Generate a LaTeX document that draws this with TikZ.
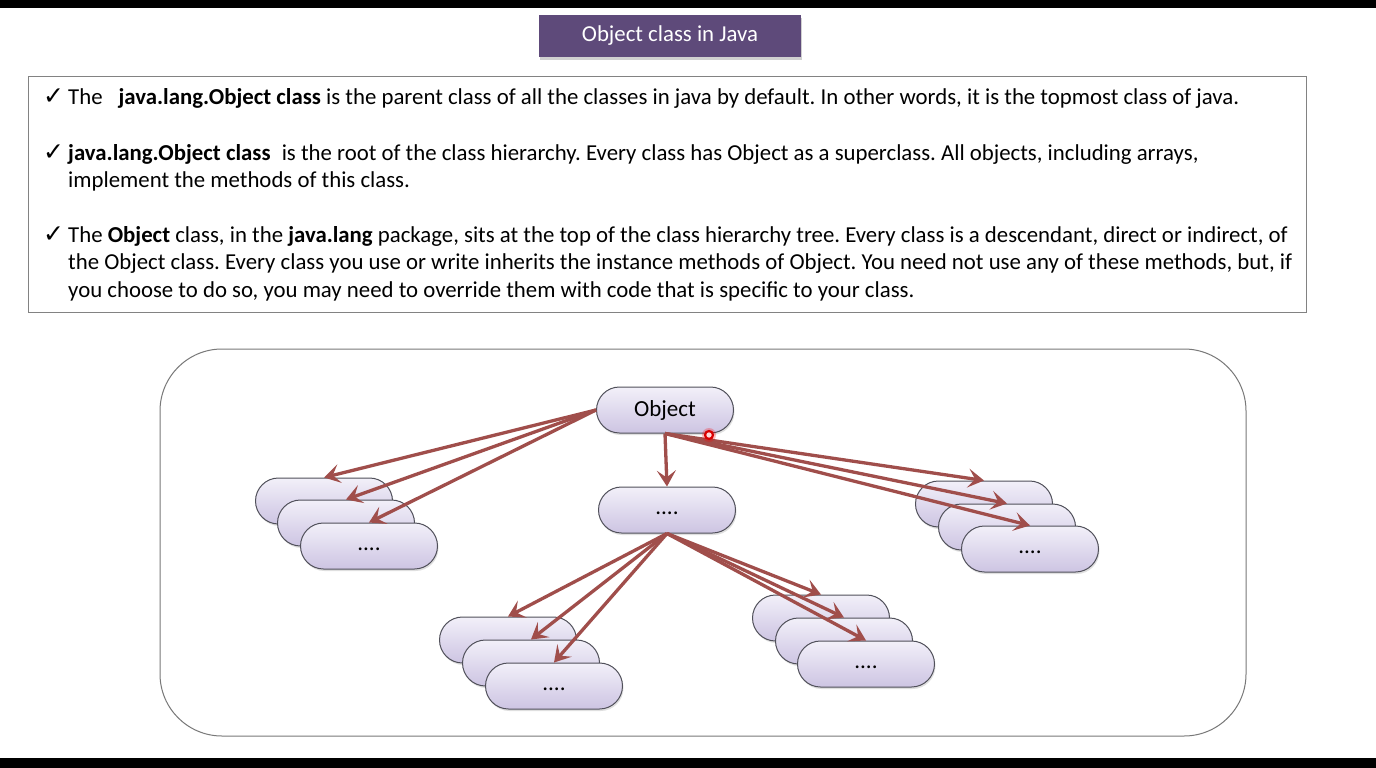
\documentclass[tikz,border=0pt]{standalone}
\usepackage{fontspec}
\setmainfont{Carlito}
\newfontfamily\symf{DejaVu Sans}
\usetikzlibrary{shapes.misc,shadows,arrows.meta}
\definecolor{arrowc}{RGB}{160,78,75}
\definecolor{titlec}{RGB}{94,74,122}
\definecolor{pilltop}{RGB}{242,240,249}
\definecolor{pillbot}{RGB}{205,196,226}
\tikzset{
  pill/.style={rounded rectangle, draw={rgb,255:red,80;green,80;blue,90}, line width=1pt,
    top color=pilltop, bottom color=pillbot, minimum width=137pt, minimum height=46pt,
    inner sep=0pt, font=\fontsize{23}{27}\selectfont,
    drop shadow={opacity=0.25, shadow xshift=1pt, shadow yshift=-2pt}},
  dots/.style={pill, text height=8pt, text depth=0pt},
  conn/.style={draw=arrowc, line width=3.3pt, -{Stealth[length=16pt,width=19pt,inset=7pt]}},
  txt/.style={anchor=base west, inner sep=0pt, font=\fontsize{22.8}{27}\selectfont\frenchspacing},
  tick/.style={anchor=base west, inner sep=0pt, font=\symf\fontsize{25}{27}\selectfont}
}
\begin{document}
\begin{tikzpicture}[x=1pt,y=-1pt]
\useasboundingbox (0,0) rectangle (1376,768);
\fill[white] (0,0) rectangle (1376,768);
\fill[black] (0,0) rectangle (1376,8);
\fill[black] (0,758) rectangle (1376,768);

% title
\node[rectangle, fill=titlec, minimum width=262pt, minimum height=42pt,
  inner sep=0pt, text=white, font=\fontsize{22.8}{27}\selectfont,
  drop shadow={opacity=0.3, fill=black!60, shadow xshift=1pt, shadow yshift=-3pt}] (title) at (670,36) {Object class in Java};

% text box
\draw[draw={rgb,255:red,130;green,130;blue,130}, line width=1pt] (28,77) rectangle (1306,312);
\node[tick] (c1) at (43,104) {✓};
\node[txt] (t1) at (68,104) {The\hspace{16pt}\textbf{java.lang.Object class} is the parent class of all the classes in java by default. In other words, it is the topmost class of java.};
\node[tick] (c2) at (43,160) {✓};
\node[txt] (t2) at (68,160) {\textbf{java.lang.Object class}\hspace{6pt} is the root of the class hierarchy. Every class has Object as a superclass. All objects, including arrays,};
\node[txt] (t3) at (68,187) {implement the methods of this class.};
\node[tick] (c3) at (43,242) {✓};
\node[txt] (t4) at (68,242) {The \textbf{Object} class, in the \textbf{java.lang} package, sits at the top of the class hierarchy tree. Every class is a descendant, direct or indirect, of};
\node[txt] (t5) at (68,269) {the Object class. Every class you use or write inherits the instance methods of Object. You need not use any of these methods, but, if};
\node[txt] (t6) at (68,297) {you choose to do so, you may need to override them with code that is specific to your class.};

% frame
\draw[draw={rgb,255:red,120;green,120;blue,120}, line width=1pt, rounded corners=62pt] (160,349) rectangle (1246,736);

% nodes
\node[pill] (obj) at (665,410) {Object};
\node[dots] (mid) at (667,510) {....};
\node[pill] (L1) at (324,501) {};
\node[pill] (L2) at (346,523) {};
\node[dots] (L3) at (369,546) {....};
\node[pill] (R1) at (984,504) {};
\node[pill] (R2) at (1007,527) {};
\node[dots] (R3) at (1030,549) {....};
\node[pill] (BL1) at (508,640) {};
\node[pill] (BL2) at (531,663) {};
\node[dots] (BL3) at (554,686) {....};
\node[pill] (BR1) at (821,618) {};
\node[pill] (BR2) at (844,641) {};
\node[dots] (BR3) at (866,664) {....};

% connectors
\draw[conn] (obj.west) -- (L1.north);
\draw[conn] (obj.west) -- (L2.north);
\draw[conn] (obj.west) -- (L3.north);
\draw[conn] (obj.south) -- (mid.north);
\draw[conn] (obj.south) -- (R1.north);
\draw[conn] (obj.south) -- (R2.north);
\draw[conn] (obj.south) -- (R3.north);
\draw[conn] (mid.south) -- (BL1.north);
\draw[conn] (mid.south) -- (BL2.north);
\draw[conn] (mid.south) -- (BL3.north);
\draw[conn] (mid.south) -- (BR1.north);
\draw[conn] (mid.south) -- (BR2.north);
\draw[conn] (mid.south) -- (BR3.north);

% pointer dot
\node[circle, fill=red, opacity=0.25, minimum size=14pt, inner sep=0pt] (glow) at (709,435) {};
\node[circle, draw=red!85!black, line width=2.2pt, fill=pink!60, minimum size=8pt, inner sep=0pt] (dot) at (709,435) {};
\end{tikzpicture}
\end{document}
